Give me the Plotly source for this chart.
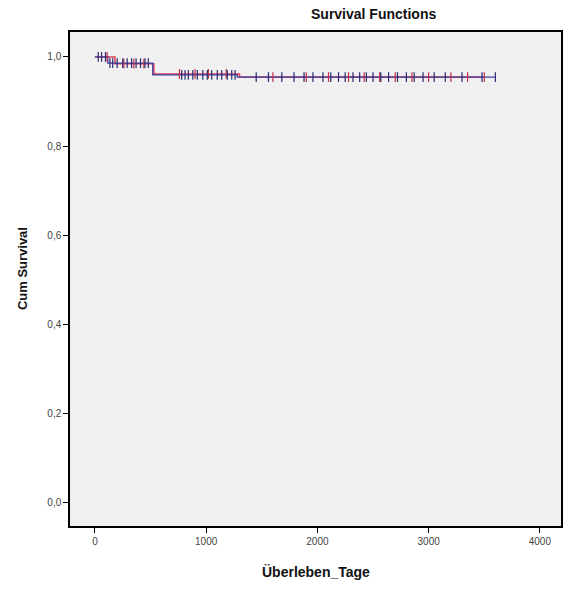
import plotly.graph_objects as go

# Step-function data (Kaplan-Meier) for two groups
blue_times = [0, 116, 520, 1280, 3600]
blue_surv = [1.0, 0.986, 0.960, 0.955, 0.955]
blue_cens_t = [30, 60, 95, 135, 160, 200, 250, 290, 330, 370, 410, 450, 480,
               780, 810, 840, 880, 920, 970, 1010, 1050, 1100, 1140, 1190, 1230, 1260,
               1450, 1560, 1680, 1790, 1880, 1960, 2050, 2120, 2190, 2250, 2320, 2380,
               2440, 2500, 2570, 2640, 2720, 2800, 2870, 2950, 3050, 3150, 3300, 3480, 3600]

red_times = [0, 180, 530, 1300, 3500]
red_surv = [1.0, 0.985, 0.962, 0.955, 0.955]
red_cens_t = [110, 260, 350, 440, 760, 900, 1020, 1180, 1600, 1900, 2100, 2280,
              2420, 2560, 2700, 2850, 3000, 3200, 3350, 3500]

x_tick_vals = [0, 1000, 2000, 3000, 4000]
x_tick_text = ["0", "1000", "2000", "3000", "4000"]
y_tick_vals = [0.0, 0.2, 0.4, 0.6, 0.8, 1.0]
y_tick_text = ["0,0", "0,2", "0,4", "0,6", "0,8", "1,0"]


def surv_at(times, surv, t):
    s = surv[0]
    for ti, si in zip(times, surv):
        if ti <= t:
            s = si
    return s


fig = go.Figure()

RED = "#e0405a"
BLUE = "#3b3fa0"
RED_M = "#c0304a"
BLUE_M = "#2a2a70"

fig.add_trace(go.Scatter(x=red_times, y=red_surv, mode="lines", line=dict(color=RED, width=1.5, shape="hv"),
                         showlegend=False, hoverinfo="skip"))
fig.add_trace(go.Scatter(x=blue_times, y=blue_surv, mode="lines", line=dict(color=BLUE, width=1.3, shape="hv"),
                         showlegend=False, hoverinfo="skip"))
fig.add_trace(go.Scatter(x=red_cens_t, y=[surv_at(red_times, red_surv, t) for t in red_cens_t], mode="markers",
                         marker=dict(symbol="line-ns-open", size=7, color=RED_M, line=dict(color=RED_M, width=1.2)),
                         showlegend=False, hoverinfo="skip"))
fig.add_trace(go.Scatter(x=blue_cens_t, y=[surv_at(blue_times, blue_surv, t) for t in blue_cens_t], mode="markers",
                         marker=dict(symbol="line-ns-open", size=7, color=BLUE_M, line=dict(color=BLUE_M, width=1.2)),
                         showlegend=False, hoverinfo="skip"))

font_fam = "Liberation Sans, Arial, sans-serif"

fig.update_layout(
    width=569, height=590,
    margin=dict(l=70, r=6, t=32, b=64),
    paper_bgcolor="white",
    plot_bgcolor="#f0f0f0",
    font=dict(family=font_fam, color="#333333", size=10),
    xaxis=dict(range=[-224, 4190], tickvals=x_tick_vals, ticktext=x_tick_text,
               showgrid=False, zeroline=False, showline=True, linecolor="black", linewidth=1.5,
               mirror=True, ticks="outside", ticklen=5, tickcolor="black",
               tickfont=dict(size=10, color="#444444")),
    yaxis=dict(range=[-0.052, 1.056], tickvals=y_tick_vals, ticktext=y_tick_text,
               showgrid=False, zeroline=False, showline=True, linecolor="black", linewidth=1.5,
               mirror=True, ticks="outside", ticklen=5, tickcolor="black",
               tickfont=dict(size=10, color="#444444")),
    annotations=[
        dict(text="<b>Survival Functions</b>", xref="paper", yref="paper", x=0.619, y=1.0,
             yshift=18, xanchor="center", yanchor="middle", showarrow=False,
             font=dict(size=14, color="#111111", family=font_fam)),
        dict(text="<b>Cum Survival</b>", xref="paper", yref="paper", x=0, xshift=-48, y=0.52,
             xanchor="center", yanchor="middle", textangle=-90, showarrow=False,
             font=dict(size=13, color="#111111", family=font_fam)),
        dict(text="<b>Überleben_Tage</b>", xref="paper", yref="paper", x=0.5, y=0, yshift=-46,
             xanchor="center", yanchor="middle", showarrow=False,
             font=dict(size=14, color="#111111", family=font_fam)),
    ],
)

fig.write_html("out.html")
